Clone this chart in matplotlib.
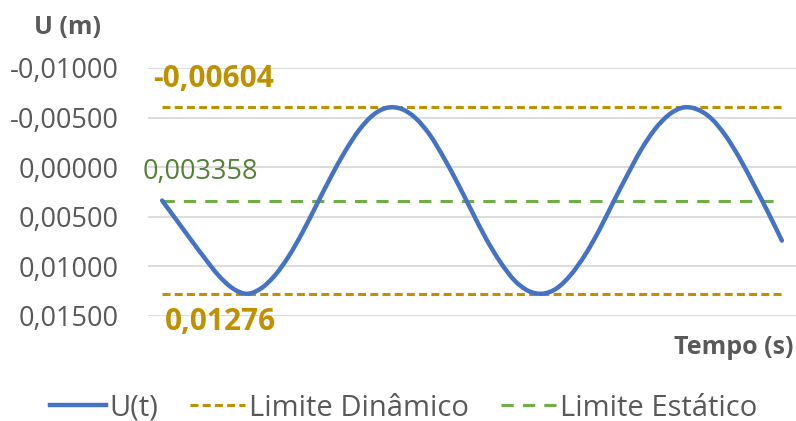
import matplotlib.pyplot as plt
from matplotlib.path import Path
from matplotlib.patches import PathPatch
from matplotlib.lines import Line2D
from matplotlib.ticker import FuncFormatter

# deslocamento (passo de meio intervalo)
u_t = [0.00336, 0.00528, 0.00722, 0.00912, 0.01090, 0.01220, 0.01276, 0.01224,
       0.01092, 0.00896, 0.00648, 0.00370, 0.00093, -0.00162, -0.00377, -0.00529,
       -0.00600, -0.00587, -0.00494, -0.00327, -0.00095, 0.00167, 0.00447, 0.00721,
       0.00954, 0.01139, 0.01247, 0.01275, 0.01222, 0.01087, 0.00890, 0.00643,
       0.00361, 0.00086, -0.00175, -0.00386, -0.00531, -0.00602, -0.00582, -0.00489,
       -0.00318, -0.00090, 0.00175, 0.00450, 0.00740]
tempo = [i * 0.5 for i in range(len(u_t))]

lim_din_sup = -0.00604
lim_din_inf = 0.01276
lim_est = 0.003358
y_ticks = [-0.01, -0.005, 0.0, 0.005, 0.01, 0.015]

GRAY = '#595959'
BLUE = '#4472C4'
GOLD = '#BF9000'
GREEN = '#70AD47'

plt.rcParams['font.family'] = ['Open Sans', 'DejaVu Sans']

fig = plt.figure(figsize=(7.96, 4.21), dpi=100)
ax = fig.add_axes([148 / 796, 1 - 316 / 421, 1 - 148 / 796, (316 - 68) / 421])


def smooth_path(xs, ys):
    # linha suavizada tipo Excel: curvas de Bezier entre os pontos
    verts = [(xs[0], ys[0])]
    codes = [Path.MOVETO]
    n = len(xs)
    for i in range(n - 1):
        x0, y0 = xs[max(i - 1, 0)], ys[max(i - 1, 0)]
        x1, y1 = xs[i], ys[i]
        x2, y2 = xs[i + 1], ys[i + 1]
        x3, y3 = xs[min(i + 2, n - 1)], ys[min(i + 2, n - 1)]
        c1 = (x1 + (x2 - x0) / 6, y1 + (y2 - y0) / 6)
        c2 = (x2 - (x3 - x1) / 6, y2 - (y3 - y1) / 6)
        verts += [c1, c2, (x2, y2)]
        codes += [Path.CURVE4] * 3
    return Path(verts, codes)


ax.add_patch(PathPatch(smooth_path(tempo, u_t), facecolor='none', edgecolor=BLUE,
                       lw=3.2, capstyle='round', joinstyle='round', zorder=4))

t0, t1 = tempo[0], tempo[-1]
ax.plot([t0, t1], [lim_din_sup] * 2, color=GOLD, lw=2.2, dashes=(2.6, 1.4), zorder=3)
ax.plot([t0, t1], [lim_din_inf] * 2, color=GOLD, lw=2.2, dashes=(2.6, 1.4), zorder=3)
ax.plot([t0, t1], [lim_est] * 2, color=GREEN, lw=2.2, dashes=(4, 3), zorder=3)

ax.set_xlim(-0.5, 22.5)
ax.set_ylim(0.015, -0.01)
ax.set_yticks(y_ticks)


def fmt(v, pos):
    s = f"{v:.5f}".replace('.', ',')
    return '0,00000' if s == '-0,00000' else s


ax.yaxis.set_major_formatter(FuncFormatter(fmt))
ax.tick_params(axis='y', length=0, pad=21, labelsize=19.5, labelcolor=GRAY)
ax.set_xticks([])
ax.grid(axis='y', color='#D9D9D9', lw=1.3)
ax.set_axisbelow(True)
for s in ax.spines.values():
    s.set_visible(False)

# rotulos dos limites
ax.text(-0.32, -0.0089, '-0,00604', color=GOLD, fontsize=21.5, fontweight='bold',
        ha='left', va='center', clip_on=False)
ax.text(0.1, 0.0156, '0,01276', color=GOLD, fontsize=21.5, fontweight='bold',
        ha='left', va='center', clip_on=False)
ax.text(-0.68, 0.0005, '0,003358', color='#548235', fontsize=19.5,
        ha='left', va='center', clip_on=False)

fig.text(68 / 796, 1 - 28 / 421, 'U (m)', color=GRAY, fontsize=18, fontweight='bold',
         ha='center', va='center')
fig.text(793 / 796, 1 - 347 / 421, 'Tempo (s)', color=GRAY, fontsize=18,
         fontweight='bold', ha='right', va='center')

handles = [Line2D([], [], color=BLUE, lw=3.2),
           Line2D([], [], color=GOLD, lw=2.2, dashes=(2.6, 1.4)),
           Line2D([], [], color=GREEN, lw=2.2, dashes=(4, 3))]
fig.legend(handles, ['U(t)', 'Limite Dinâmico', 'Limite Estático'], loc='center',
           bbox_to_anchor=(0.507, 1 - 408 / 421), ncol=3, frameon=False,
           fontsize=21, labelcolor=GRAY, handlelength=1.9, handletextpad=0.12,
           columnspacing=1.1)

fig.savefig('out.png', dpi=100)
